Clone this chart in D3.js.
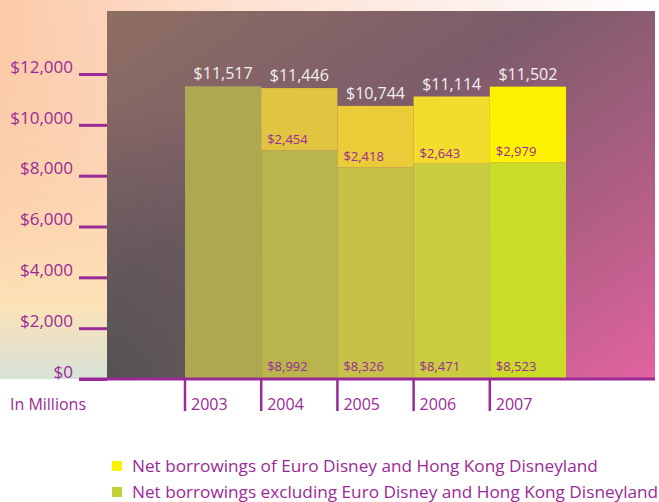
<!DOCTYPE html>
<html>
<head>
<meta charset="utf-8">
<script src="https://cdnjs.cloudflare.com/ajax/libs/d3/7.8.5/d3.min.js"></script>
<style>
  body { margin: 0; background: #fff; }
  svg { display: block; font-family: 'Open Sans', sans-serif; }
</style>
</head>
<body>
<svg width="659" height="502"></svg>
<script>
// Data (in millions)
var years = ['2003', '2004', '2005', '2006', '2007'];
var totals = [11517, 11446, 10744, 11114, 11502];
var excluding = [null, 8992, 8326, 8471, 8523];
var euroHK = [null, 2454, 2418, 2643, 2979];
var yTicks = [0, 2000, 4000, 6000, 8000, 10000, 12000];
var legendLabels = [
    'Net borrowings of Euro Disney and Hong Kong Disneyland',
    'Net borrowings excluding Euro Disney and Hong Kong Disneyland'
];

// Bar fills per year (style only)
var baseColors = ['#aea852', '#b9b44c', '#c6c248', '#cacd40', '#cadb28'];
var topColors = ['#aea852', '#e1c440', '#e9cc38', '#f2dc2c', '#fff200'];
var purple = '#9a2a98';

var svg = d3.select('svg');
var svgWidth = +svg.attr('width');

var plot = {l: 107, r: 655, t: 11, b: 379};

var xScale = d3.scaleBand().domain(years).range([185, 566]).padding(0);
var yScale = d3.scaleLinear().domain([0, 12000]).range([plot.b, 74]);

var rows = years.map(function(y, i) {
    return {year: y, total: totals[i], excl: excluding[i], euro: euroHK[i], i: i};
});

// Gradients
var defs = svg.append('defs');

var pageGrad = defs.append('linearGradient').attr('id', 'pageGrad')
    .attr('x1', 0).attr('y1', 0).attr('x2', 1).attr('y2', 0);
pageGrad.append('stop').attr('offset', 0).attr('stop-color', '#fbcaa8');
pageGrad.append('stop').attr('offset', 0.35).attr('stop-color', '#fde0d0');
pageGrad.append('stop').attr('offset', 0.8).attr('stop-color', '#fdf4f2');
pageGrad.append('stop').attr('offset', 1).attr('stop-color', '#ffffff');

var leftGrad = defs.append('linearGradient').attr('id', 'leftGrad')
    .attr('x1', 0).attr('y1', 0).attr('x2', 0).attr('y2', 1);
leftGrad.append('stop').attr('offset', 0).attr('stop-color', '#fbc9aa').attr('stop-opacity', 0);
leftGrad.append('stop').attr('offset', 0.55).attr('stop-color', '#fdd8b0').attr('stop-opacity', 0.6);
leftGrad.append('stop').attr('offset', 0.8).attr('stop-color', '#fde2b6').attr('stop-opacity', 1);
leftGrad.append('stop').attr('offset', 1).attr('stop-color', '#d6e2d6').attr('stop-opacity', 1);

var plotGrad = defs.append('linearGradient').attr('id', 'plotGrad')
    .attr('x1', 0).attr('y1', 0).attr('x2', 1).attr('y2', 1);
plotGrad.append('stop').attr('offset', 0).attr('stop-color', '#8e6e62');
plotGrad.append('stop').attr('offset', 0.4).attr('stop-color', '#7c5c6a');
plotGrad.append('stop').attr('offset', 0.7).attr('stop-color', '#ad5e82');
plotGrad.append('stop').attr('offset', 1).attr('stop-color', '#e263a0');

var darkGrad = defs.append('radialGradient').attr('id', 'darkGrad')
    .attr('cx', 0).attr('cy', 1).attr('r', 0.75);
darkGrad.append('stop').attr('offset', 0).attr('stop-color', '#4e5250').attr('stop-opacity', 0.9);
darkGrad.append('stop').attr('offset', 1).attr('stop-color', '#4e5250').attr('stop-opacity', 0);

// Background
svg.append('rect').attr('x', 0).attr('y', 0).attr('width', svgWidth).attr('height', plot.b)
    .attr('fill', 'url(#pageGrad)');
svg.append('rect').attr('x', 0).attr('y', 0).attr('width', plot.l).attr('height', plot.b)
    .attr('fill', 'url(#leftGrad)');
svg.append('rect').attr('x', plot.l).attr('y', plot.t)
    .attr('width', plot.r - plot.l).attr('height', plot.b - plot.t)
    .attr('fill', 'url(#plotGrad)');
svg.append('rect').attr('x', plot.l).attr('y', plot.t)
    .attr('width', plot.r - plot.l).attr('height', plot.b - plot.t)
    .attr('fill', 'url(#darkGrad)');

// Bars
var barG = svg.append('g');

barG.selectAll('.base').data(rows).enter().append('rect')
    .attr('class', 'base')
    .attr('x', function(d) { return xScale(d.year); })
    .attr('width', xScale.bandwidth())
    .attr('y', function(d) { return yScale(d.excl == null ? d.total : d.excl); })
    .attr('height', function(d) { return plot.b - yScale(d.excl == null ? d.total : d.excl); })
    .attr('fill', function(d) { return baseColors[d.i]; });

var split = rows.filter(function(d) { return d.euro != null; });

barG.selectAll('.top').data(split).enter().append('rect')
    .attr('class', 'top')
    .attr('x', function(d) { return xScale(d.year); })
    .attr('width', xScale.bandwidth())
    .attr('y', function(d) { return yScale(d.excl + d.euro); })
    .attr('height', function(d) { return yScale(d.excl) - yScale(d.excl + d.euro); })
    .attr('fill', function(d) { return topColors[d.i]; });

var fmt = function(v) { return '$' + d3.format(',')(v); };

// Total labels
barG.selectAll('.total').data(rows).enter().append('text')
    .attr('x', function(d) { return xScale(d.year) + xScale.bandwidth() / 2; })
    .attr('y', function(d) { return yScale(d.total) - 7; })
    .attr('text-anchor', 'middle')
    .attr('fill', '#f4f0f0')
    .style('font-size', '16px')
    .text(function(d) { return fmt(d.total); });

// Segment labels
barG.selectAll('.euroLbl').data(split).enter().append('text')
    .attr('x', function(d) { return xScale(d.year) + 6; })
    .attr('y', function(d) { return yScale(d.excl) - 6; })
    .attr('fill', purple)
    .style('font-size', '13px')
    .text(function(d) { return fmt(d.euro); });

barG.selectAll('.exclLbl').data(split).enter().append('text')
    .attr('x', function(d) { return xScale(d.year) + 6; })
    .attr('y', plot.b - 8)
    .attr('fill', purple)
    .style('font-size', '13px')
    .text(function(d) { return fmt(d.excl); });

// Y axis
var yAxisG = svg.append('g')
    .attr('transform', 'translate(' + [plot.l, 0] + ')')
    .call(d3.axisLeft(yScale).tickValues(yTicks).tickSize(28).tickPadding(6)
        .tickFormat(function(v) { return fmt(v); }));
yAxisG.select('.domain').remove();
yAxisG.selectAll('line').attr('stroke', purple).attr('stroke-width', 3);
yAxisG.selectAll('text').attr('fill', purple).style('font-size', '17px')
    .style('font-family', "'Open Sans', sans-serif").attr('dy', '-0.1em');

// X axis
svg.append('line').attr('x1', 79).attr('x2', plot.r).attr('y1', plot.b).attr('y2', plot.b)
    .attr('stroke', purple).attr('stroke-width', 3);

var xAxisG = svg.append('g');
xAxisG.selectAll('line').data(years).enter().append('line')
    .attr('x1', function(d) { return xScale(d); })
    .attr('x2', function(d) { return xScale(d); })
    .attr('y1', plot.b).attr('y2', 411)
    .attr('stroke', purple).attr('stroke-width', 2.5);
xAxisG.selectAll('text').data(years).enter().append('text')
    .attr('x', function(d) { return xScale(d) + 6; })
    .attr('y', 410)
    .attr('fill', purple)
    .style('font-size', '16px')
    .text(function(d) { return d; });

svg.append('text').attr('x', 86).attr('y', 410).attr('text-anchor', 'end')
    .attr('fill', purple).style('font-size', '16px').text('In Millions');

// Legend
var legendColors = ['#fff200', '#c4cf3c'];
var legend = svg.selectAll('.legend').data(legendLabels).enter().append('g')
    .attr('transform', function(d, i) { return 'translate(' + [112, 461 + i * 26] + ')'; });
legend.append('rect').attr('width', 10).attr('height', 10)
    .attr('fill', function(d, i) { return legendColors[i]; });
legend.append('text').attr('x', 20).attr('y', 11)
    .attr('fill', purple).style('font-size', '17.2px')
    .text(function(d) { return d; });
</script>
</body>
</html>
